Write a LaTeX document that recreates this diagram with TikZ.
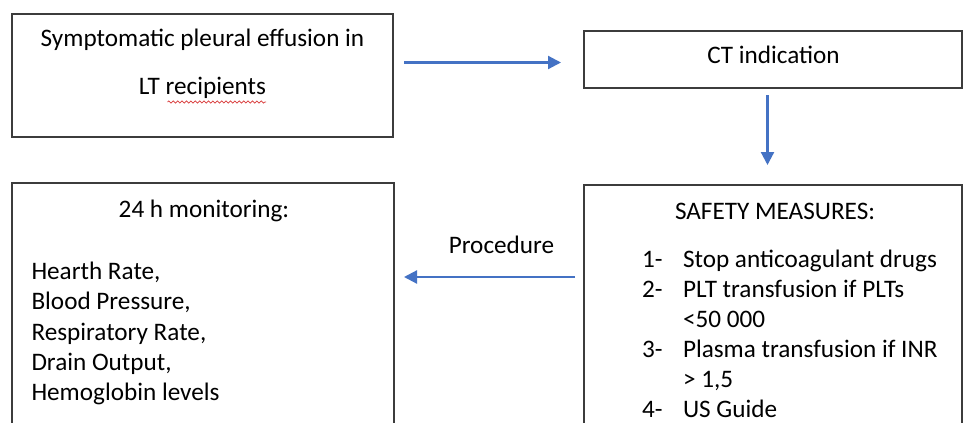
\documentclass[tikz,border=0pt]{standalone}
\usepackage{fontspec}
\setmainfont{Carlito}
\usetikzlibrary{arrows.meta,decorations.pathmorphing,calc}
\definecolor{arrowblue}{HTML}{4472C4}
\definecolor{boxgray}{HTML}{3C3C3C}
\definecolor{spellred}{HTML}{D93A3A}
\tikzset{
  box/.style={draw=boxgray, line width=1.5pt, rectangle, inner sep=0pt},
  txt/.style={inner sep=0pt, outer sep=0pt, font=\fontsize{25.2}{30.3}\selectfont, text=black},
  arr/.style={draw=arrowblue, line width=2.2pt, -{Triangle[length=13pt,width=13pt]}},
  wavy/.style={draw=spellred, line width=0.7pt, decorate, decoration={snake, amplitude=1.1pt, segment length=4.4pt}}
}
\begin{document}
\begin{tikzpicture}[x=1pt, y=-1pt]
\path[use as bounding box] (0,0) rectangle (964,423);
\clip (0,0) rectangle (964,423);
\fill[white] (0,0) rectangle (964,423);

% boxes
\node[box, minimum width=381pt, minimum height=123pt] (b1) at (202.5,75.5) {};
\node[box, minimum width=378pt, minimum height=57pt] (b2) at (773,59.5) {};
\node[box, minimum width=382pt, minimum height=257pt] (b3) at (203,311.5) {};
\node[box, minimum width=378pt, minimum height=255pt] (b4) at (773,312.5) {};

% box 1 text
\node[txt, anchor=base] (t1a) at (202.5,46) {Symptomatic pleural effusion in};
\node[txt, anchor=base] (t1b) at (202.5,94) {LT recipients};
\draw[wavy] ([xshift=28.5pt,yshift=-8pt]t1b.base west) -- ([yshift=-8pt]t1b.base east);

% box 2 text
\node[txt, anchor=base] (t2) at (773.5,63.5) {CT indication};

% box 3 text
\node[txt, anchor=base] (t3h) at (204,217) {24 h monitoring:};
\node[txt, anchor=base west] (t3a) at (31.5,279) {Hearth Rate,};
\node[txt, anchor=base west] (t3b) at (31.5,309.5) {Blood Pressure,};
\node[txt, anchor=base west] (t3c) at (31.5,340) {Respiratory Rate,};
\node[txt, anchor=base west] (t3d) at (31.5,370) {Drain Output,};
\node[txt, anchor=base west] (t3e) at (31.5,400.5) {Hemoglobin levels};

% box 4 text
\node[txt, anchor=base west] (t4h) at (675,219) {SAFETY MEASURES:};
\node[txt, anchor=base west] (n1) at (642,267) {1-};
\node[txt, anchor=base west] (s1) at (683,267) {Stop anticoagulant drugs};
\node[txt, anchor=base west] (n2) at (642,297) {2-};
\node[txt, anchor=base west] (s2) at (683,297) {PLT transfusion if PLTs};
\node[txt, anchor=base west] (s2b) at (683,327) {<50 000};
\node[txt, anchor=base west] (n3) at (642,357) {3-};
\node[txt, anchor=base west] (s3) at (683,357) {Plasma transfusion if INR};
\node[txt, anchor=base west] (s3b) at (683,387) {> 1,5};
\node[txt, anchor=base west] (n4) at (642,417) {4-};
\node[txt, anchor=base west] (s4) at (683,417) {US Guide};

% connectors
\coordinate (a1s) at (404,62.5);
\coordinate (a1e) at (561,62.5);
\draw[arr] (a1s) -- (a1e);

\coordinate (a2s) at (767.5,95);
\coordinate (a2e) at (767.5,165);
\draw[arr] (a2s) -- (a2e);

\coordinate (a3s) at (575,277);
\coordinate (a3e) at (404,277);
\draw[arr] (a3s) -- (a3e);
\node[txt, anchor=base] (proc) at (501.5,253) {Procedure};
\end{tikzpicture}
\end{document}
